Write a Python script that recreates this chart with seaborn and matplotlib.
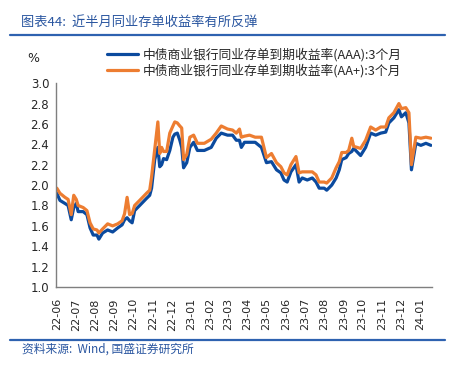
import matplotlib.pyplot as plt
import matplotlib.dates as mdates
from matplotlib.lines import Line2D
import pandas as pd
import seaborn as sns

# data
dates = ['2022-06-01', '2022-06-06', '2022-06-14', '2022-06-19', '2022-06-24', '2022-06-28',
         '2022-07-02', '2022-07-05', '2022-07-13', '2022-07-19', '2022-07-24', '2022-07-29',
         '2022-08-04', '2022-08-07', '2022-08-13', '2022-08-21', '2022-08-29', '2022-09-06',
         '2022-09-13', '2022-09-17', '2022-09-21', '2022-09-25', '2022-09-29', '2022-10-03',
         '2022-10-11', '2022-10-22', '2022-10-27', '2022-10-30', '2022-11-04', '2022-11-09',
         '2022-11-12', '2022-11-15', '2022-11-18', '2022-11-23', '2022-11-28', '2022-12-03',
         '2022-12-06', '2022-12-10', '2022-12-14', '2022-12-17', '2022-12-20', '2022-12-25',
         '2022-12-30', '2023-01-05', '2023-01-11', '2023-01-22', '2023-02-02', '2023-02-10',
         '2023-02-18', '2023-02-28', '2023-03-08', '2023-03-14', '2023-03-19', '2023-03-22',
         '2023-03-27', '2023-04-04', '2023-04-13', '2023-04-23', '2023-05-01', '2023-05-09',
         '2023-05-17', '2023-05-24', '2023-05-29', '2023-06-03', '2023-06-09', '2023-06-17',
         '2023-06-22', '2023-06-27', '2023-07-05', '2023-07-13', '2023-07-19', '2023-07-24',
         '2023-08-01', '2023-08-05', '2023-08-13', '2023-08-20', '2023-08-25', '2023-08-29',
         '2023-09-05', '2023-09-09', '2023-09-14', '2023-09-17', '2023-09-28', '2023-10-06',
         '2023-10-14', '2023-10-22', '2023-10-30', '2023-11-07', '2023-11-12', '2023-11-20',
         '2023-11-28', '2023-12-02', '2023-12-09', '2023-12-14', '2023-12-18', '2023-12-25',
         '2024-01-02', '2024-01-10', '2024-01-18']

aaa = [1.92, 1.85, 1.82, 1.80, 1.66, 1.78,
       1.82, 1.74, 1.74, 1.71, 1.58, 1.51,
       1.51, 1.47, 1.53, 1.56, 1.54, 1.58,
       1.61, 1.66, 1.68, 1.65, 1.63, 1.75,
       1.80, 1.87, 1.90, 1.97, 2.25, 2.37,
       2.18, 2.20, 2.26, 2.25, 2.34, 2.47,
       2.50, 2.51, 2.44, 2.37, 2.17, 2.22,
       2.37, 2.42, 2.34, 2.34, 2.37, 2.46,
       2.51, 2.49, 2.49, 2.44, 2.44, 2.37,
       2.42, 2.42, 2.42, 2.37, 2.22, 2.23,
       2.15, 2.12, 2.05, 2.03, 2.13, 2.20,
       2.03, 2.07, 2.05, 2.07, 2.03, 1.97,
       1.97, 1.95, 2.00, 2.07, 2.15, 2.25,
       2.27, 2.31, 2.33, 2.36, 2.29, 2.37,
       2.51, 2.49, 2.51, 2.52, 2.61, 2.66,
       2.74, 2.67, 2.71, 2.61, 2.15, 2.41,
       2.39, 2.41, 2.39]

aa_plus = [1.97, 1.92, 1.88, 1.86, 1.71, 1.90,
           1.86, 1.80, 1.78, 1.75, 1.63, 1.57,
           1.56, 1.53, 1.57, 1.62, 1.60, 1.62,
           1.65, 1.72, 1.88, 1.71, 1.72, 1.80,
           1.85, 1.92, 1.95, 2.08, 2.35, 2.62,
           2.31, 2.37, 2.33, 2.33, 2.51, 2.58,
           2.62, 2.61, 2.58, 2.56, 2.25, 2.30,
           2.47, 2.49, 2.41, 2.41, 2.45, 2.51,
           2.58, 2.55, 2.54, 2.51, 2.55, 2.47,
           2.48, 2.49, 2.47, 2.47, 2.27, 2.31,
           2.22, 2.18, 2.12, 2.10, 2.20, 2.28,
           2.12, 2.13, 2.13, 2.13, 2.10, 2.03,
           2.03, 2.02, 2.07, 2.17, 2.23, 2.32,
           2.32, 2.34, 2.46, 2.38, 2.36, 2.44,
           2.57, 2.54, 2.57, 2.57, 2.66, 2.71,
           2.80, 2.75, 2.76, 2.71, 2.20, 2.47,
           2.46, 2.47, 2.46]

labels = ['中债商业银行同业存单到期收益率(AAA):3个月',
          '中债商业银行同业存单到期收益率(AA+):3个月']

sns.set_style('white')
plt.rcParams['font.family'] = ['Noto Sans CJK SC', 'DejaVu Sans']

df = pd.DataFrame({'date': pd.to_datetime(dates), 'AAA': aaa, 'AA+': aa_plus})
df_long = df.melt(id_vars='date', var_name='series', value_name='value')

fig = plt.figure(figsize=(4.53, 3.68), dpi=100)
ax = fig.add_axes([0.124, 0.22, 0.83, 0.554])
sns.lineplot(data=df_long, x='date', y='value', hue='series',
             palette=['#0B4A9E', '#ED7D31'], linewidth=2.3, ax=ax, legend=False)

ax.set_ylim(1.0, 3.0)
ax.set_yticks([1.0 + 0.2 * i for i in range(11)])
ax.yaxis.set_major_formatter(plt.FormatStrFormatter('%.1f'))
ax.set_xlim(pd.Timestamp('2022-05-31'), pd.Timestamp('2024-01-20'))
ax.set_xticks(pd.date_range('2022-06-01', '2024-01-01', freq='MS'))
ax.xaxis.set_major_formatter(mdates.DateFormatter('%y-%m'))
ax.set_xlabel('')
ax.set_ylabel('')
for s in ['top', 'right']:
    ax.spines[s].set_visible(False)
for s in ['left', 'bottom']:
    ax.spines[s].set_color('#7f7f7f')
    ax.spines[s].set_linewidth(1.0)
ax.tick_params(axis='y', direction='in', length=4, color='#7f7f7f', labelsize=8.5, pad=5)
ax.tick_params(axis='x', length=0, labelsize=8, pad=8, rotation=90)
for t in ax.get_yticklabels() + ax.get_xticklabels():
    t.set_family('DejaVu Sans')

handles = [Line2D([], [], color='#0B4A9E', lw=2.3), Line2D([], [], color='#ED7D31', lw=2.3)]
fig.legend(handles, labels, loc='upper left', bbox_to_anchor=(101 / 453, 1 - 41 / 368),
           frameon=False, fontsize=9.2, handlelength=2.4, handletextpad=0.4,
           borderpad=0, labelspacing=0.25)

fig.text(33 / 453, 1 - 58 / 368, '%', fontsize=9, ha='center', va='center', family='DejaVu Sans')

blue = '#2A56A0'
fig.text(21 / 453, 1 - 22 / 368, '图表44:  近半月同业存单收益率有所反弹', fontsize=9.5,
         color=blue, style='italic', ha='left', va='center')
fig.add_artist(Line2D([10 / 453, 445 / 453], [1 - 35 / 368, 1 - 35 / 368], color='#2E62B0', lw=1.6))
fig.add_artist(Line2D([10 / 453, 445 / 453], [1 - 340 / 368, 1 - 340 / 368], color='#2E62B0', lw=1.6))
fig.text(22 / 453, 1 - 349 / 368, '资料来源:  Wind, 国盛证券研究所', fontsize=8.5,
         color=blue, style='italic', ha='left', va='center')

fig.savefig('out.png', dpi=100)
